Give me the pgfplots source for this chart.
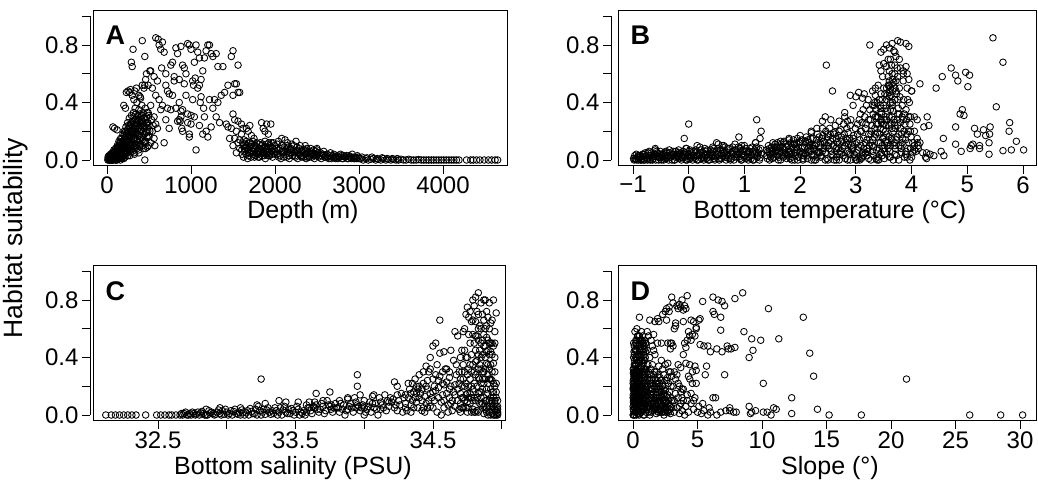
\documentclass[border=0pt]{standalone}
\usepackage{fontspec}
\setmainfont{Liberation Sans}
\usepackage{pgfplots}
\pgfplotsset{compat=1.18}
\pgfplotsset{
  rax/.style={scale only axis, anchor=south west, axis line style={-, line width=0.8pt, black}, tick style={line width=0.8pt, black}, tick align=outside, major tick length=8pt, tick label style={font=\fontsize{24}{25}\selectfont}},
  ryax/.style={width=1pt, height=143.75pt, xmin=0, xmax=1, ymin=0, ymax=1, axis y line=left, axis x line=none, rax, y axis line style={-}, ytick={0,0.2,0.4,0.6,0.8,1}, yticklabels={0.0,,0.4,,0.8,}},
  rxax/.style={height=1pt, ymin=0, ymax=1, axis x line=bottom, axis y line=none, rax, x axis line style={-}, xticklabel style={yshift=1pt}},
  dax/.style={scale only axis, anchor=south west, ymin=-0.04, ymax=1.04, ticks=none, axis line style={line width=0.8pt}, clip=false},
  pts/.style={only marks, mark=o, mark size=3.3pt, mark options={line width=0.85pt, black}, black},
}
\begin{document}
\begin{tikzpicture}
\useasboundingbox (0pt,0pt) rectangle (1038pt,-492pt);
% ---------------- Panel A ----------------
\begin{axis}[dax, at={(93pt,-165.75pt)}, width=414pt, height=155.25pt, xmin=-166.7, xmax=4761.9]
\addplot[pts] coordinates {
(10,0)(15,0.01)(25,0)(30,0.02)(35,0.005)(45,0.015)(50,0.03)(55,0)(60,0.01)(65,0.04)(70,0.02)(75,0)(80,0.05)(85,0.01)(90,0.03)(95,0.06)(100,0.02)(105,0.04)(110,0.07)(115,0.01)(120,0.05)(125,0.08)(130,0.03)(135,0.06)(140,0.1)(145,0.02)(150,0.04)(70,0.23)(90,0.22)(120,0.21)(40,0.0)(60,0.03)(80,0.02)(100,0.0)(120,0.0)(140,0.01)(110,0.03)(130,0.09)(150,0.12)(160,0.0)(180,0.02)(200,0.01)
(155,0.09)(160,0.12)(165,0.03)(170,0.07)(175,0.15)(180,0.01)(185,0.1)(190,0.18)(195,0.05)(200,0.13)(205,0.2)(210,0.08)(215,0.02)(220,0.16)(225,0.23)(230,0.11)(235,0.05)(240,0.19)(245,0.26)(250,0.14)(255,0.08)(260,0.22)(265,0.29)(270,0.03)(275,0.17)(280,0.25)(285,0.11)(290,0.31)(295,0.2)(300,0.06)
(160,0.05)(170,0.1)(180,0.06)(190,0.12)(200,0.03)(210,0.15)(220,0.09)(230,0.18)(240,0.06)(250,0.21)(260,0.12)(270,0.24)(280,0.09)(290,0.15)(300,0.27)(175,0.02)(195,0.08)(215,0.12)(235,0.14)(255,0.17)(275,0.07)(295,0.1)
(20,0.01)(28,0.0)(38,0.02)(48,0.0)(58,0.02)(68,0.0)(78,0.03)(88,0.05)(98,0.01)(108,0.0)(118,0.03)(128,0.01)(138,0.04)(148,0.07)(158,0.02)(168,0.04)(178,0.09)(188,0.03)(198,0.06)(208,0.11)(218,0.04)(228,0.08)(238,0.13)(248,0.03)(258,0.11)(268,0.16)(278,0.05)(288,0.19)(298,0.13)(308,0.23)(318,0.15)(328,0.04)(338,0.18)(348,0.24)(358,0.08)(368,0.18)(378,0.27)(388,0.1)(398,0.24)(408,0.16)(418,0.23)(428,0.1)(438,0.29)(448,0.22)(458,0.08)(468,0.19)(478,0.33)(488,0.26)(498,0.31)(510,0.2)(530,0.28)(550,0.24)(570,0.1)
(12,0.02)(22,0.03)(32,0.01)(42,0.04)(52,0.02)(62,0.05)(72,0.03)(82,0.07)(92,0.04)(102,0.08)(112,0.05)(122,0.1)(132,0.06)(142,0.13)(152,0.07)(162,0.15)(172,0.05)(182,0.13)(192,0.09)(202,0.17)(212,0.06)(222,0.2)(232,0.14)(242,0.09)(252,0.24)(262,0.18)(272,0.1)(282,0.2)(292,0.26)(302,0.18)(312,0.3)(322,0.22)(332,0.1)(342,0.32)(352,0.25)(362,0.15)(372,0.12)(382,0.2)(392,0.32)(402,0.26)
(305,0.12)(310,0.2)(315,0.33)(320,0.05)(325,0.25)(330,0.15)(335,0.36)(340,0.09)(345,0.28)(350,0.19)(355,0.4)(360,0.13)(365,0.31)(370,0.22)(375,0.07)(380,0.35)(385,0.17)(390,0.26)(395,0.44)(400,0.11)(405,0.3)(410,0.21)(415,0.38)(420,0.14)(425,0.27)(430,0.33)(435,0.08)(440,0.24)(445,0.18)(450,0.29)(455,0.36)(460,0.12)(465,0.23)(470,0.3)(475,0.16)(480,0.26)(485,0.2)(490,0.33)(495,0.1)(500,0.24)
(310,0.08)(330,0.28)(350,0.1)(370,0.3)(390,0.14)(410,0.27)(430,0.2)(450,0.13)(470,0.25)(490,0.17)(320,0.18)(340,0.22)(360,0.27)(380,0.05)(400,0.2)(420,0.31)(440,0.12)(460,0.28)(480,0.09)(500,0.16)(450,0.0)(520,0.12)(540,0.2)(560,0.15)(580,0.25)
(200,0.38)(220,0.36)(230,0.47)(250,0.48)(270,0.47)(280,0.49)(300,0.45)(320,0.42)(330,0.48)(350,0.5)(380,0.45)(400,0.43)(420,0.52)(440,0.5)(450,0.52)(460,0.56)(470,0.6)(490,0.52)(510,0.62)(290,0.68)(310,0.77)(300,0.65)(420,0.83)(450,0.72)
(520,0.62)(540,0.5)(560,0.58)(580,0.85)(610,0.84)(620,0.8)(640,0.77)(660,0.82)(680,0.75)(700,0.6)(650,0.64)(600,0.55)(580,0.45)(620,0.42)(660,0.38)(700,0.52)(720,0.48)(740,0.46)(760,0.66)(780,0.68)(800,0.58)(820,0.78)(840,0.74)(860,0.56)(880,0.79)(900,0.66)(920,0.64)(940,0.6)(960,0.81)(980,0.8)(1000,0.77)(1020,0.55)(1040,0.68)(1060,0.8)(1080,0.75)(1100,0.71)(1120,0.56)(1140,0.62)(1160,0.71)(1180,0.76)(1200,0.8)(1220,0.8)(1240,0.74)(1260,0.72)(1300,0.74)(1320,0.65)(1380,0.65)(1440,0.52)(1480,0.72)(1500,0.76)(1520,0.53)(1540,0.53)(1560,0.47)(1580,0.47)(1560,0.66)(1500,0.45)
(520,0.38)(560,0.3)(600,0.22)(640,0.35)(680,0.12)(700,0.28)(720,0.36)(740,0.22)(760,0.35)(780,0.45)(800,0.55)(820,0.36)(840,0.27)(860,0.4)(880,0.3)(900,0.2)(920,0.53)(940,0.45)(960,0.26)(980,0.18)(1000,0.31)(1020,0.42)(1040,0.3)(1060,0.07)(1080,0.5)(1100,0.24)(1120,0.44)(1140,0.18)(1160,0.3)(1180,0.2)(1200,0.16)(1220,0.42)(1240,0.23)(1260,0.36)(1280,0.42)(1300,0.3)(1320,0.4)(1340,0.26)(1360,0.45)(1400,0.47)(1420,0.25)(1440,0.23)(1460,0.15)(1480,0.22)(1500,0.32)(1520,0.28)(1540,0.2)(1560,0.27)(1580,0.14)(1600,0.25)(1620,0.22)(1660,0.22)
(860,0.28)(870,0.27)(880,0.34)(890,0.22)(900,0.35)(1050,0.57)(1030,0.52)(1100,0.52)(1110,0.4)(1150,0.36)(1000,0.25)(980,0.16)(960,0.32)
(1500,0.1)(1520,0.15)(1540,0.05)(1560,0.12)(1580,0.08)(1600,0.18)(1620,0.1)(1640,0.06)(1660,0.13)(1680,0.03)(1700,0.09)(1720,0.11)(1740,0.04)(1760,0.07)(1780,0.12)(1800,0.02)(1820,0.08)(1840,0.1)(1860,0.05)(1880,0.13)(1900,0.07)(1920,0.03)(1940,0.1)(1960,0.06)(1980,0.12)(2000,0.04)
(1610,0.04)(1630,0.14)(1650,0.09)(1670,0.07)(1690,0.12)(1710,0.05)(1730,0.08)(1750,0.1)(1770,0.03)(1790,0.06)(1810,0.11)(1830,0.05)(1850,0.08)(1870,0.03)(1890,0.09)(1910,0.11)(1930,0.06)(1950,0.09)(1970,0.02)(1990,0.07)
(1605,0.07)(1615,0.12)(1625,0.02)(1635,0.08)(1645,0.11)(1655,0.04)(1665,0.1)(1675,0.01)(1685,0.07)(1695,0.05)(1705,0.12)(1715,0.02)(1725,0.06)(1735,0.13)(1745,0.06)(1755,0.02)(1765,0.1)(1775,0.05)(1785,0.09)(1795,0.04)(1805,0.06)(1815,0.02)(1825,0.12)(1835,0.07)(1845,0.03)(1855,0.11)(1865,0.06)(1875,0.09)(1885,0.01)(1895,0.04)(1905,0.08)(1915,0.06)(1925,0.12)(1935,0.03)(1945,0.05)(1955,0.12)(1965,0.04)(1975,0.08)(1985,0.05)(1995,0.1)
(1840,0.26)(1860,0.22)(1880,0.2)(1900,0.25)(1920,0.18)(1950,0.25)(1700,0.24)(1680,0.2)(1720,0.17)(1750,0.15)
(2020,0.08)(2040,0.13)(2060,0.03)(2080,0.1)(2100,0.06)(2120,0.14)(2140,0.02)(2160,0.09)(2180,0.05)(2200,0.11)(2220,0.07)(2240,0.03)(2260,0.09)(2280,0.05)(2300,0.1)(2320,0.02)(2340,0.07)(2360,0.04)(2380,0.08)(2400,0.03)(2420,0.06)(2440,0.02)(2460,0.07)(2480,0.04)(2500,0.08)(2520,0.02)(2540,0.05)(2560,0.03)(2580,0.06)(2600,0.02)(2620,0.04)(2640,0.01)(2660,0.05)(2680,0.02)(2700,0.04)(2720,0.01)(2740,0.03)(2760,0.02)(2780,0.04)(2800,0.01)(2820,0.03)(2840,0.02)(2860,0.01)(2880,0.03)(2900,0.02)(2920,0.04)(2940,0.01)(2960,0.02)(2980,0.03)(3000,0.01)
(2030,0.04)(2050,0.07)(2070,0.01)(2090,0.05)(2110,0.09)(2130,0.04)(2150,0.06)(2170,0.01)(2190,0.08)(2210,0.03)(2230,0.05)(2250,0.06)(2270,0.01)(2290,0.04)(2310,0.06)(2330,0.03)(2350,0.05)(2370,0.01)(2390,0.05)(2410,0.02)(2430,0.04)(2450,0.05)(2470,0.01)(2490,0.03)(2510,0.05)(2530,0.03)(2550,0.01)(2570,0.04)(2590,0.02)(2610,0.03)(2630,0.02)(2650,0.03)(2670,0.01)(2690,0.03)(2710,0.02)(2730,0.02)(2750,0.01)(2770,0.02)(2790,0.03)(2810,0.01)(2830,0.02)(2850,0.03)(2870,0.01)(2890,0.02)(2910,0.01)(2930,0.02)(2950,0.01)(2970,0.01)(2990,0.02)
(2005,0.06)(2025,0.11)(2045,0.02)(2065,0.08)(2085,0.06)(2105,0.02)(2125,0.07)(2145,0.1)(2165,0.03)(2185,0.07)(2205,0.05)(2225,0.1)(2245,0.02)(2265,0.07)(2285,0.08)(2305,0.03)(2325,0.06)(2345,0.02)(2365,0.07)(2385,0.02)(2405,0.05)(2425,0.08)(2445,0.04)(2465,0.03)(2485,0.06)
(2080,0.15)(2150,0.12)(2360,0.1)(2500,0.07)(2250,0.13)
(3020,0.01)(3050,0)(3080,0.01)(3110,0)(3140,0.005)(3170,0.01)(3200,0)(3230,0.005)(3260,0)(3290,0.01)(3320,0)(3350,0.005)(3380,0)(3410,0.005)(3440,0)(3470,0)(3500,0.005)(3530,0)(3560,0)(3590,0.005)(3620,0)(3650,0)(3680,0)(3710,0.003)(3740,0)(3770,0)(3800,0)(3830,0)(3860,0)(3890,0)(3920,0)(3950,0)(3980,0)(4010,0)(4040,0)(4070,0)(4100,0)(4130,0)(4160,0)(4190,0)
(4280,0)(4330,0)(4360,0)(4400,0)(4440,0)(4490,0)(4540,0)(4580,0)(4620,0)(4650,0)
(3035,0.02)(3095,0.015)(3155,0.02)(3215,0.01)(3275,0.015)(3335,0.01)(3395,0.01)(3455,0.01)
};
\end{axis}
\begin{axis}[ryax, at={(90pt,-160pt)}]\end{axis}
\begin{axis}[rxax, at={(107pt,-165.75pt)}, width=336pt, xmin=0, xmax=4000, xtick={0,1000,2000,3000,4000}, xticklabels={0,1000,2000,3000,4000}]\end{axis}
\node[anchor=base west, font=\bfseries\fontsize{27}{27}\selectfont] at (102pt,-45pt) {A};
\node[anchor=base, font=\fontsize{25}{25}\selectfont] at (303pt,-218pt) {Depth (m)};
% ---------------- Panel B ----------------
\begin{axis}[dax, at={(618pt,-165.75pt)}, width=418pt, height=155.25pt, xmin=-1.269, xmax=6.233]
\addplot[pts] coordinates {
(-0.98,0)(-0.95,0.01)(-0.92,0.02)(-0.9,0)(-0.87,0.03)(-0.84,0.01)(-0.8,0.04)(-0.77,0.02)(-0.74,0)(-0.7,0.03)(-0.67,0.05)(-0.64,0.01)(-0.6,0.07)(-0.57,0.03)(-0.54,0)(-0.5,0.04)(-0.47,0.02)(-0.44,0.05)(-0.4,0.01)(-0.37,0.03)(-0.34,0.05)(-0.3,0)(-0.27,0.04)(-0.24,0.02)(-0.2,0.05)(-0.17,0.01)(-0.14,0.03)(-0.1,0.06)(-0.07,0.02)(-0.04,0.08)(0,0.04)(0.03,0.01)(0.06,0.05)(0.1,0.02)(0.13,0.07)(0.16,0.03)(0.2,0.09)(0.23,0.01)(0.26,0.05)(0.3,0.03)(0.33,0.07)(0.36,0.02)(0.4,0.05)(0.43,0.09)(0.46,0.01)(0.5,0.06)(0.53,0.11)(0.56,0.03)(0.6,0.07)(0.63,0.1)(0.66,0.02)(0.7,0.05)(0.73,0.08)(0.76,0.01)(0.8,0.04)(0.83,0.11)(0.86,0.06)(0.9,0.02)(0.93,0.08)(0.96,0.04)(1,0.1)(1.03,0.01)(1.06,0.05)(1.1,0.08)(1.13,0.03)(1.16,0.06)(1.2,0.12)(1.23,0.02)(1.26,0.07)(1.3,0.04)
(-0.96,0.005)(-0.88,0.015)(-0.82,0.025)(-0.72,0.015)(-0.62,0.025)(-0.52,0.015)(-0.42,0.03)(-0.32,0.02)(-0.22,0.035)(-0.12,0.015)(-0.02,0.03)(0.08,0.03)(0.18,0.04)(0.28,0.015)(0.38,0.04)(0.48,0.03)(0.58,0.045)(0.68,0.035)(0.78,0.06)(0.88,0.04)(0.98,0.03)(1.08,0.02)(1.18,0.04)(1.28,0.015)
(-0.99,0.01)(-0.93,0.0)(-0.91,0.03)(-0.86,0.0)(-0.83,0.04)(-0.79,0.0)(-0.76,0.03)(-0.73,0.05)(-0.69,0.0)(-0.66,0.02)(-0.63,0.04)(-0.59,0.0)(-0.56,0.05)(-0.53,0.02)(-0.49,0.0)(-0.46,0.04)(-0.43,0.01)(-0.39,0.05)(-0.36,0.0)(-0.33,0.02)(-0.29,0.04)(-0.26,0.0)(-0.23,0.06)(-0.19,0.02)(-0.16,0.04)(-0.13,0.0)(-0.09,0.03)(-0.06,0.05)(-0.03,0.0)(0.01,0.06)(0.04,0.02)(0.07,0.0)(0.11,0.05)(0.14,0.03)(0.17,0.0)(0.21,0.05)(0.24,0.03)(0.27,0.0)(0.31,0.06)(0.34,0.04)(0.37,0.0)(0.41,0.02)(0.44,0.06)(0.47,0.0)(0.51,0.04)(0.54,0.01)(0.57,0.07)(0.61,0.03)(0.64,0.05)(0.67,0.0)(0.71,0.08)(0.74,0.03)(0.77,0.05)(0.81,0.0)(0.84,0.07)(0.87,0.02)(0.91,0.05)(0.94,0.0)(0.97,0.07)(1.01,0.03)(1.04,0.06)(1.07,0.0)(1.11,0.04)(1.14,0.09)(1.17,0.0)(1.21,0.05)(1.24,0.03)(1.27,0.0)(1.29,0.08)
(-0.97,0.03)(-0.94,0.04)(-0.89,0.02)(-0.81,0.0)(-0.78,0.05)(-0.75,0.01)(-0.71,0.06)(-0.68,0.03)(-0.61,0.04)(-0.58,0.06)(-0.55,0.02)(-0.51,0.06)(-0.48,0.03)(-0.41,0.06)(-0.38,0.02)(-0.35,0.07)(-0.31,0.03)(-0.28,0.06)(-0.21,0.03)(-0.18,0.07)(-0.15,0.05)(-0.11,0.02)(-0.08,0.04)(-0.01,0.01)(0.02,0.07)(0.05,0.03)(0.09,0.06)(0.12,0.01)(0.19,0.04)(0.22,0.07)(0.25,0.02)(0.29,0.08)(0.32,0.01)(0.39,0.07)(0.42,0.03)(0.45,0.08)(0.49,0.02)(0.52,0.08)(0.59,0.01)(0.62,0.05)(0.65,0.09)(0.69,0.03)(0.72,0.01)(0.79,0.09)(0.82,0.02)(0.85,0.04)(0.89,0.09)(0.92,0.01)(0.99,0.06)(1.02,0.08)(1.05,0.02)(1.09,0.06)(1.12,0.01)(1.19,0.07)(1.22,0.09)(1.25,0.05)
(-0.85,0)(-0.65,0)(-0.45,0)(-0.25,0)(-0.05,0)(0.15,0)(0.35,0)(0.55,0)(0.75,0)(0.95,0)(1.15,0)
(0,0.25)(-0.08,0.15)(-0.05,0.08)(0.15,0.1)(0.9,0.16)(1.22,0.28)(1.3,0.2)(1.28,0.15)(1.2,0.12)(-0.6,0.08)(0.5,0.12)(0.6,0.1)(0.95,0.1)
(1.4,0.03)(1.45,0.08)(1.5,0.01)(1.55,0.11)(1.6,0.05)(1.65,0.13)(1.7,0.02)(1.75,0.09)(1.8,0.15)(1.85,0.04)(1.9,0.11)(1.95,0.07)(2,0.17)(2.05,0.01)(2.1,0.12)(2.15,0.06)(2.2,0.19)(2.25,0.03)(2.3,0.14)(2.35,0.09)(2.4,0.22)(2.45,0.05)(2.5,0.16)(2.55,0.28)(2.6,0.1)(2.65,0.02)(2.7,0.2)(2.75,0.13)(2.8,0.33)(2.85,0.06)(2.9,0.24)(2.95,0.15)(3,0.44)
(1.42,0.06)(1.52,0.04)(1.62,0.02)(1.72,0.07)(1.82,0.01)(1.92,0.03)(2.02,0.08)(2.12,0.03)(2.22,0.1)(2.32,0.05)(2.42,0.13)(2.52,0.08)(2.62,0.18)(2.72,0.06)(2.82,0.15)(2.92,0.1)
(1.47,0.02)(1.57,0.07)(1.67,0.05)(1.77,0.03)(1.87,0.08)(1.97,0.02)(2.07,0.05)(2.17,0.1)(2.27,0.07)(2.37,0.02)(2.47,0.1)(2.57,0.04)(2.67,0.12)(2.77,0.03)(2.87,0.11)(2.97,0.04)
(1.41,0.01)(1.43,0.1)(1.46,0.04)(1.48,0.07)(1.51,0.12)(1.53,0.02)(1.56,0.06)(1.58,0.09)(1.61,0.0)(1.63,0.08)(1.66,0.11)(1.68,0.03)(1.71,0.13)(1.73,0.05)(1.76,0.01)(1.78,0.1)(1.81,0.06)(1.83,0.12)(1.86,0.02)(1.88,0.14)(1.91,0.05)(1.93,0.09)(1.96,0.0)(1.98,0.12)(2.01,0.06)(2.03,0.14)(2.06,0.03)(2.08,0.09)(2.11,0.16)(2.13,0.01)(2.16,0.12)(2.18,0.07)(2.21,0.04)(2.23,0.15)(2.26,0.1)(2.28,0.0)(2.31,0.18)(2.33,0.06)(2.36,0.12)(2.38,0.03)(2.41,0.17)(2.43,0.08)(2.46,0.2)(2.48,0.01)(2.51,0.12)(2.53,0.22)(2.56,0.06)(2.58,0.15)(2.61,0.0)(2.63,0.24)(2.66,0.09)(2.68,0.17)(2.71,0.04)(2.73,0.21)(2.76,0.08)(2.78,0.25)(2.81,0.01)(2.83,0.12)(2.86,0.19)(2.88,0.05)(2.91,0.28)(2.93,0.07)(2.96,0.17)(2.98,0.02)
(1.44,0.05)(1.54,0.09)(1.64,0.06)(1.74,0.11)(1.84,0.09)(1.94,0.12)(2.04,0.05)(2.14,0.14)(2.24,0.08)(2.34,0.16)(2.44,0.12)(2.54,0.18)(2.64,0.08)(2.74,0.16)(2.84,0.22)(2.94,0.12)(2.5,0.0)(2.7,0.0)(2.9,0.0)(2.2,0.0)(1.9,0.0)(1.6,0.03)
(1.4,0.07)(1.49,0.09)(1.5,0.06)(1.59,0.12)(1.6,0.09)(1.69,0.09)(1.7,0.12)(1.79,0.06)(1.8,0.04)(1.89,0.11)(1.9,0.07)(1.99,0.05)(2.0,0.13)(2.09,0.13)(2.1,0.04)(2.19,0.15)(2.2,0.06)(2.29,0.11)(2.3,0.02)(2.39,0.15)(2.4,0.06)(2.49,0.18)(2.5,0.1)(2.59,0.03)(2.6,0.19)(2.69,0.08)(2.7,0.11)(2.79,0.18)(2.8,0.1)(2.89,0.15)(2.9,0.04)(2.99,0.22)(2.55,0.13)(2.65,0.15)(2.75,0.05)(2.85,0.14)(2.95,0.09)(2.35,0.05)(2.15,0.09)(1.75,0.04)
(1.45,0)(1.65,0)(1.85,0)(2.05,0)(2.25,0)(2.45,0)(2.65,0)(2.85,0)(3,0)
(2.47,0.66)(2.58,0.48)(2.45,0.3)(2.4,0.27)(2.7,0.27)(2.8,0.3)(2.85,0.27)(2.9,0.45)(2.95,0.38)(2.2,0.2)(2.3,0.22)(1.95,0.15)(1.8,0.14)
(3.05,0.02)(3.1,0.2)(3.15,0.46)(3.2,0.08)(3.25,0.35)(3.3,0.14)(3.35,0.45)(3.4,0.25)(3.45,0.05)(3.5,0.38)(3.55,0.18)(3.6,0.52)(3.65,0.3)(3.7,0.1)(3.75,0.42)(3.8,0.22)(3.85,0.6)(3.9,0.35)(3.95,0.12)(4,0.48)
(3.02,0.12)(3.08,0.32)(3.12,0.05)(3.18,0.25)(3.22,0.42)(3.28,0.2)(3.32,0.03)(3.38,0.3)(3.42,0.42)(3.48,0.15)(3.52,0.28)(3.58,0.08)(3.62,0.4)(3.68,0.2)(3.72,0.55)(3.78,0.32)(3.82,0.05)(3.88,0.25)(3.92,0.5)(3.98,0.3)
(3.04,0.07)(3.14,0.15)(3.24,0.1)(3.34,0.22)(3.44,0.12)(3.54,0.24)(3.64,0.15)(3.74,0.28)(3.84,0.15)(3.94,0.2)
(3.06,0.28)(3.16,0.3)(3.26,0.28)(3.36,0.35)(3.46,0.32)(3.56,0.45)(3.66,0.48)(3.76,0.36)(3.86,0.42)(3.96,0.4)
(3.1,0.01)(3.2,0.03)(3.3,0.06)(3.4,0.02)(3.5,0.08)(3.6,0.02)(3.7,0.04)(3.8,0.1)(3.9,0.06)(3.36,0.01)(3.46,0.26)(3.56,0.04)
(3.01,0.05)(3.03,0.18)(3.07,0.0)(3.09,0.1)(3.11,0.26)(3.13,0.03)(3.17,0.12)(3.19,0.38)(3.21,0.06)(3.23,0.18)(3.27,0.0)(3.29,0.1)(3.31,0.32)(3.33,0.16)(3.37,0.07)(3.39,0.19)(3.41,0.0)(3.43,0.33)(3.47,0.1)(3.49,0.21)(3.51,0.01)(3.53,0.13)(3.57,0.34)(3.59,0.16)(3.61,0.06)(3.63,0.25)(3.67,0.0)(3.69,0.12)(3.71,0.22)(3.73,0.03)(3.77,0.18)(3.79,0.44)(3.81,0.08)(3.83,0.3)(3.87,0.02)(3.89,0.14)(3.91,0.28)(3.93,0.08)(3.97,0.0)(3.99,0.16)(3.62,0.35)(3.66,0.4)(3.52,0.46)(3.58,0.58)(3.64,0.66)(3.7,0.6)(3.74,0.64)(3.34,0.4)(3.44,0.38)(3.54,0.36)
(3.02,0.0)(3.05,0.09)(3.08,0.2)(3.11,0.02)(3.14,0.08)(3.17,0.22)(3.2,0.14)(3.23,0.01)(3.26,0.12)(3.29,0.24)(3.32,0.09)(3.35,0.18)(3.38,0.0)(3.41,0.12)(3.44,0.22)(3.47,0.03)(3.5,0.16)(3.53,0.3)(3.56,0.1)(3.59,0.24)(3.62,0.02)(3.65,0.14)(3.68,0.28)(3.71,0.08)(3.74,0.16)(3.77,0.0)(3.8,0.26)(3.83,0.12)(3.86,0.2)(3.89,0.04)(3.92,0.18)(3.95,0.3)(3.4,0.3)(3.45,0.28)(3.5,0.25)(3.55,0.28)(3.6,0.3)(3.65,0.22)(3.7,0.26)(3.75,0.24)
(3.03,0.25)(3.07,0.14)(3.13,0.35)(3.17,0.05)(3.23,0.28)(3.27,0.18)(3.33,0.38)(3.37,0.25)(3.43,0.18)(3.47,0.42)(3.53,0.2)(3.57,0.12)(3.63,0.45)(3.67,0.34)(3.73,0.46)(3.77,0.1)(3.83,0.38)(3.87,0.32)(3.93,0.42)(3.97,0.25)(3.35,0.3)(3.45,0.36)(3.55,0.42)(3.65,0.38)(3.75,0.32)(3.85,0.28)(3.6,0.44)(3.7,0.42)(3.5,0.5)(3.6,0.47)(3.68,0.54)(3.62,0.5)(3.66,0.56)(3.58,0.52)(3.72,0.48)(3.78,0.5)(3.42,0.08)(3.52,0.06)(3.62,0.1)(3.72,0.14)(3.82,0.18)(3.92,0.02)
(3.25,0.8)(3.45,0.75)(3.5,0.77)(3.55,0.8)(3.6,0.78)(3.65,0.81)(3.7,0.75)(3.75,0.83)(3.8,0.82)(3.9,0.81)(3.95,0.79)(3.62,0.7)(3.68,0.76)(3.72,0.72)(3.78,0.7)(3.5,0.67)(3.55,0.65)(3.6,0.62)(3.65,0.6)(3.7,0.66)(3.8,0.64)(3.85,0.62)(3.9,0.65)(3.92,0.6)(3.48,0.58)(3.6,0.55)(3.65,0.53)(3.7,0.5)(3.75,0.58)(3.85,0.55)(3.95,0.56)(3.55,0.5)(3.4,0.52)(3.35,0.5)(3.3,0.48)(3.45,0.46)(4.0,0.48)(4.15,0.53)(4.05,0.3)(4.1,0.28)(3.98,0.2)(4.02,0.12)(4.08,0.06)(3.12,0.43)(3.05,0.47)(3.42,0.66)(3.45,0.62)(3.58,0.7)(3.38,0.4)(3.3,0.38)
(4.0,0.02)(4.02,0.05)(4.05,0.1)(4.1,0.15)(4.12,0.08)(3.98,0.08)(4.05,0.2)(4.15,0.12)
(5.46,0.85)(5.64,0.68)(5.52,0.37)(4.71,0.64)(4.55,0.58)(4.44,0.5)(4.79,0.59)(4.83,0.55)(4.97,0.61)(5.04,0.59)(5.01,0.51)(4.91,0.35)(4.87,0.32)(4.94,0.31)(4.28,0.3)(4.31,0.24)(4.22,0.23)(4.57,0.15)(4.79,0.23)(5.13,0.22)(5.18,0.18)(5.29,0.21)(5.33,0.17)(5.41,0.23)(5.40,0.18)(5.76,0.26)(5.75,0.2)(5.88,0.13)(6.01,0.07)(5.79,0.07)(5.64,0.065)(5.39,0.04)(5.39,0.12)(5.22,0.1)(5.22,0.08)(5.05,0.08)(5.07,0.1)(5.1,0.11)(4.89,0.06)(4.79,0.11)(4.58,0.03)(4.53,0.06)(4.4,0.03)(4.33,0.04)(4.27,0.05)(4.25,0.02)(4.2,0.05)(4.1,0.12)(4.12,0.1)(4.05,0.07)(4.27,0.01)
};
\end{axis}
\begin{axis}[ryax, at={(611pt,-160pt)}]\end{axis}
\begin{axis}[rxax, at={(633pt,-165.75pt)}, width=390pt, xmin=-1, xmax=6, xtick={-1,0,1,2,3,4,5,6}, xticklabels={−1,0,1,2,3,4,5,6}]\end{axis}
\node[anchor=base west, font=\bfseries\fontsize{27}{27}\selectfont] at (627pt,-45pt) {B};
\node[anchor=base, font=\fontsize{25}{25}\selectfont] at (830pt,-218pt) {Bottom temperature (°C)};
% ---------------- Panel C ----------------
\begin{axis}[dax, at={(93pt,-420.75pt)}, width=412pt, height=155.25pt, xmin=32.027, xmax=35.024]
\addplot[pts] coordinates {
(32.12,0)(32.16,0)(32.19,0)(32.22,0)(32.25,0)(32.28,0)(32.31,0)(32.34,0)(32.41,0)(32.49,0)(32.52,0)(32.55,0)(32.58,0)(32.6,0)(32.63,0)
(32.66,0)(32.69,0.01)(32.72,0)(32.75,0.02)(32.78,0.005)(32.81,0.015)(32.84,0)(32.87,0.03)(32.9,0.01)(32.93,0.02)(32.96,0)(32.99,0.04)(33.02,0.01)(33.05,0.025)(33.08,0.005)(33.11,0.035)(33.14,0.015)(33.17,0.045)(33.2,0.01)(33.23,0.06)(33.26,0.02)(33.29,0.035)(33.32,0.005)(33.35,0.05)(33.38,0.02)(33.41,0.035)(33.44,0.01)(33.47,0.045)(33.5,0.02)
(32.7,0.02)(32.76,0.01)(32.82,0.025)(32.88,0.015)(32.94,0.035)(33,0.02)(33.06,0.04)(33.12,0.02)(33.18,0.025)(33.24,0.03)(33.3,0.05)(33.36,0.03)(33.42,0.06)(33.48,0.03)
(32.68,0)(32.74,0)(32.8,0)(32.86,0)(32.92,0.005)(32.98,0.005)(33.04,0)(33.1,0)(33.16,0)(33.22,0)(33.28,0.005)(33.34,0.01)(33.4,0)(33.46,0.01)
(32.67,0.01)(32.71,0.0)(32.73,0.01)(32.77,0.0)(32.79,0.02)(32.83,0.01)(32.85,0.0)(32.89,0.02)(32.91,0.0)(32.95,0.01)(32.97,0.03)(33.01,0.0)(33.03,0.03)(33.07,0.01)(33.09,0.02)(33.13,0.0)(33.15,0.03)(33.19,0.01)(33.21,0.04)(33.25,0.0)(33.27,0.04)(33.31,0.02)(33.33,0.03)(33.37,0.0)(33.39,0.05)(33.43,0.02)(33.45,0.04)(33.49,0.0)
(33.25,0.25)(33.22,0.07)(33.28,0.08)(33.1,0.05)(33.43,0.09)(33.38,0.1)(32.95,0.05)(32.85,0.04)
(33.52,0.04)(33.55,0.01)(33.58,0.07)(33.61,0.03)(33.64,0.09)(33.67,0.02)(33.7,0.06)(33.73,0.1)(33.76,0.04)(33.79,0.08)(33.82,0.02)(33.85,0.07)(33.88,0.11)(33.91,0.05)(33.94,0.09)(33.97,0.03)(34,0.1)(34.03,0.06)(34.06,0.13)(34.09,0.04)(34.12,0.09)(34.15,0.14)(34.18,0.06)(34.21,0.11)(34.24,0.03)(34.27,0.15)(34.3,0.08)
(33.54,0.02)(33.6,0.05)(33.66,0.04)(33.72,0.03)(33.78,0.05)(33.84,0.04)(33.9,0.08)(33.96,0.06)(34.02,0.04)(34.08,0.08)(34.14,0.05)(34.2,0.09)(34.26,0.07)
(33.57,0.0)(33.63,0.06)(33.69,0.08)(33.75,0.06)(33.81,0.05)(33.87,0.03)(33.93,0.12)(33.99,0.07)(34.05,0.02)(34.11,0.12)(34.17,0.1)(34.23,0.07)(34.29,0.12)
(33.51,0.06)(33.53,0.0)(33.56,0.03)(33.59,0.05)(33.62,0.01)(33.65,0.07)(33.68,0.04)(33.71,0.01)(33.74,0.07)(33.77,0.02)(33.8,0.05)(33.83,0.08)(33.86,0.0)(33.89,0.06)(33.92,0.02)(33.95,0.07)(33.98,0.05)(34.01,0.02)(34.04,0.09)(34.07,0.05)(34.1,0.0)(34.13,0.07)(34.16,0.03)(34.19,0.12)(34.22,0.05)(34.25,0.1)(34.28,0.02)
(33.52,0.09)(33.58,0.02)(33.64,0.05)(33.7,0.1)(33.76,0.07)(33.82,0.1)(33.88,0.04)(33.94,0.05)(34.0,0.05)(34.06,0.08)(34.12,0.04)(34.18,0.09)(34.24,0.14)(34.3,0.05)(34.34,0.15)(34.38,0.2)(34.42,0.1)(34.46,0.05)(34.5,0.16)(34.54,0.24)(34.58,0.05)(34.62,0.18)(34.66,0.14)(34.7,0.08)(34.39,0.18)(34.45,0.2)(34.51,0.1)(34.57,0.3)(34.63,0.08)(34.69,0.22)
(33.65,0.15)(33.75,0.16)(33.95,0.28)(33.95,0.2)(33.97,0.14)(34.07,0.14)(34.22,0.23)(34.24,0.2)(34.0,0.0)(33.88,0.12)(33.6,0.09)
(34.31,0.03)(34.33,0.18)(34.35,0.1)(34.37,0.25)(34.39,0.05)(34.41,0.15)(34.43,0.22)(34.45,0.08)(34.47,0.3)(34.49,0.12)(34.51,0.2)(34.53,0.02)(34.55,0.27)(34.57,0.14)(34.59,0.32)(34.61,0.07)(34.63,0.2)(34.65,0.16)(34.67,0.28)(34.69,0.04)
(34.32,0.12)(34.36,0.05)(34.4,0.2)(34.44,0.13)(34.48,0.06)(34.52,0.17)(34.56,0.09)(34.6,0.23)(34.64,0.1)(34.68,0.18)(34.34,0.07)(34.38,0.15)(34.42,0.03)(34.46,0.18)(34.5,0.25)(34.54,0.12)(34.58,0.21)(34.62,0.12)(34.66,0.06)(34.7,0.25)
(34.3,0.14)(34.32,0.22)(34.34,0.02)(34.36,0.16)(34.38,0.09)(34.4,0.12)(34.42,0.18)(34.44,0.02)(34.46,0.24)(34.48,0.15)(34.5,0.05)(34.52,0.28)(34.54,0.19)(34.56,0.0)(34.58,0.1)(34.6,0.15)(34.62,0.26)(34.64,0.03)(34.66,0.21)(34.68,0.1)(34.7,0.15)(34.69,0.3)(34.67,0.35)(34.61,0.02)(34.57,0.22)(34.47,0.1)(34.43,0.05)(34.37,0.12)
(34.45,0.34)(34.48,0.4)(34.5,0.48)(34.52,0.5)(34.55,0.43)(34.58,0.44)(34.6,0.32)(34.62,0.3)(34.55,0.66)(34.63,0.45)(34.66,0.58)(34.68,0.55)(34.4,0.28)(34.43,0.3)(34.35,0.22)(34.7,0.4)(34.65,0.38)(34.53,0.35)(34.48,0.32)
(34.71,0.05)(34.71,0.2)(34.71,0.45)(34.73,0.1)(34.73,0.3)(34.73,0.6)(34.75,0.02)(34.75,0.15)(34.75,0.4)(34.75,0.75)(34.77,0.08)(34.77,0.25)(34.77,0.5)(34.77,0.72)(34.79,0.04)(34.79,0.18)(34.79,0.35)(34.79,0.56)(34.79,0.8)(34.81,0.1)(34.81,0.28)(34.81,0.45)(34.81,0.65)(34.81,0.82)(34.83,0.02)(34.83,0.15)(34.83,0.32)(34.83,0.52)(34.83,0.7)(34.83,0.85)(34.85,0.07)(34.85,0.22)(34.85,0.4)(34.85,0.6)(34.85,0.78)(34.87,0.01)(34.87,0.12)(34.87,0.3)(34.87,0.48)(34.87,0.66)(34.87,0.8)(34.89,0.05)(34.89,0.18)(34.89,0.36)(34.89,0.54)(34.89,0.72)(34.91,0.02)(34.91,0.1)(34.91,0.25)(34.91,0.42)(34.91,0.6)(34.91,0.78)(34.93,0.01)(34.93,0.06)(34.93,0.16)(34.93,0.3)(34.93,0.5)(34.93,0.66)(34.95,0.0)(34.95,0.04)(34.95,0.1)(34.95,0.2)(34.95,0.4)(34.95,0.58)(34.97,0.0)(34.97,0.02)(34.97,0.06)(34.96,0.71)(34.94,0.8)
(34.72,0.12)(34.74,0.22)(34.76,0.32)(34.78,0.12)(34.8,0.22)(34.82,0.38)(34.84,0.08)(34.86,0.3)(34.88,0.25)(34.9,0.45)(34.92,0.35)(34.94,0.22)(34.76,0.05)(34.8,0.02)(34.84,0.45)(34.88,0.6)(34.9,0.15)(34.92,0.5)(34.86,0.52)(34.82,0.55)(34.78,0.65)(34.74,0.7)(34.8,0.76)(34.88,0.8)(34.9,0.68)(34.92,0.64)(34.85,0.12)(34.89,0.02)(34.91,0.32)(34.93,0.42)(34.95,0.3)(34.96,0.12)(34.97,0.01)(34.96,0.0)(34.94,0.0)(34.92,0.0)(34.9,0.06)(34.88,0.1)(34.86,0.18)(34.84,0.25)(34.82,0.03)(34.78,0.42)(34.76,0.56)(34.72,0.35)(34.92,0.18)(34.9,0.28)(34.94,0.12)(34.96,0.06)
(34.71,0.3)(34.72,0.58)(34.73,0.45)(34.74,0.05)(34.75,0.28)(34.76,0.68)(34.77,0.15)(34.78,0.3)(34.79,0.66)(34.8,0.5)(34.81,0.37)(34.82,0.72)(34.83,0.42)(34.84,0.62)(34.85,0.32)(34.86,0.7)(34.87,0.22)(34.88,0.4)(34.89,0.44)(34.9,0.35)(34.91,0.5)(34.92,0.25)(34.93,0.24)(34.94,0.36)(34.95,0.5)(34.96,0.22)(34.97,0.04)(34.96,0.03)(34.94,0.06)(34.92,0.08)(34.9,0.0)(34.88,0.04)(34.86,0.08)(34.84,0.16)(34.82,0.2)(34.8,0.12)(34.78,0.02)(34.76,0.2)(34.74,0.14)(34.72,0.25)
(34.7,0.02)(34.71,0.12)(34.72,0.05)(34.73,0.2)(34.74,0.4)(34.75,0.09)(34.76,0.12)(34.77,0.35)(34.78,0.2)(34.79,0.1)(34.8,0.3)(34.81,0.02)(34.82,0.12)(34.83,0.26)(34.84,0.35)(34.85,0.16)(34.86,0.25)(34.87,0.06)(34.88,0.32)(34.89,0.1)(34.9,0.22)(34.91,0.06)(34.92,0.12)(34.93,0.1)(34.94,0.16)(34.95,0.08)(34.96,0.16)(34.97,0.1)(34.85,0.5)(34.87,0.56)(34.89,0.62)(34.83,0.6)(34.81,0.55)(34.9,0.52)(34.92,0.44)(34.94,0.48)(34.86,0.42)(34.88,0.48)
};
\end{axis}
\begin{axis}[ryax, at={(90pt,-415pt)}]\end{axis}
\begin{axis}[rxax, at={(158pt,-420.75pt)}, width=343.75pt, xmin=32.5, xmax=35, xtick={32.5,33,33.5,34,34.5,35}, xticklabels={32.5,,33.5,,34.5,}]\end{axis}
\node[anchor=base west, font=\bfseries\fontsize{27}{27}\selectfont] at (102pt,-300pt) {C};
\node[anchor=base, font=\fontsize{25}{25}\selectfont] at (293pt,-474pt) {Bottom salinity (PSU)};
% ---------------- Panel D ----------------
\begin{axis}[dax, at={(618pt,-420.75pt)}, width=418pt, height=155.25pt, xmin=-1.163, xmax=31.24]
\addplot[pts] coordinates {
(0.05,0.0)(0.05,0.1)(0.05,0.2)(0.05,0.3)(0.1,0.05)(0.1,0.15)(0.1,0.25)(0.1,0.48)(0.15,0.02)(0.15,0.12)(0.15,0.22)(0.15,0.35)(0.2,0.08)(0.2,0.18)(0.2,0.28)(0.2,0.5)(0.25,0.0)(0.25,0.14)(0.25,0.24)(0.25,0.32)(0.3,0.06)(0.3,0.2)(0.3,0.3)(0.3,0.6)(0.35,0.1)(0.35,0.26)(0.35,0.4)(0.4,0.03)(0.4,0.16)(0.4,0.42)(0.45,0.08)(0.45,0.22)(0.45,0.5)(0.5,0.01)(0.5,0.12)(0.5,0.3)(0.5,0.68)(0.55,0.06)(0.55,0.18)(0.55,0.38)(0.6,0.02)(0.6,0.25)(0.6,0.52)(0.65,0.1)(0.65,0.33)(0.65,0.58)(0.7,0.04)(0.7,0.2)(0.7,0.45)(0.75,0.14)(0.75,0.28)(0.75,0.55)(0.8,0.0)(0.8,0.08)(0.8,0.36)(0.85,0.18)(0.85,0.48)(0.9,0.05)(0.9,0.26)(0.9,0.52)(0.95,0.12)(0.95,0.4)(1.0,0.02)(1.0,0.22)(1.0,0.5)
(0.1,0.35)(0.2,0.4)(0.3,0.45)(0.4,0.3)(0.5,0.45)(0.6,0.4)(0.7,0.3)(0.8,0.22)(0.9,0.38)(1.0,0.32)(0.15,0.05)(0.25,0.08)(0.35,0.03)(0.45,0.15)(0.55,0.28)(0.65,0.2)(0.75,0.04)(0.85,0.1)(0.95,0.28)(0.12,0.28)(0.22,0.02)(0.32,0.12)(0.42,0.24)(0.52,0.2)(0.62,0.12)(0.72,0.36)(0.82,0.44)(0.92,0.16)(0.4,0.55)(0.6,0.48)
(0.02,0.04)(0.02,0.14)(0.02,0.24)(0.07,0.07)(0.07,0.17)(0.07,0.27)(0.12,0.0)(0.17,0.09)(0.17,0.19)(0.27,0.04)(0.27,0.17)(0.37,0.07)(0.37,0.2)(0.47,0.0)(0.47,0.1)(0.57,0.13)(0.67,0.02)(0.67,0.26)(0.77,0.1)(0.87,0.0)(0.87,0.14)(0.97,0.07)(0.97,0.2)
(0.03,0.09)(0.03,0.19)(0.03,0.29)(0.08,0.12)(0.08,0.22)(0.08,0.32)(0.13,0.18)(0.13,0.08)(0.18,0.25)(0.18,0.13)(0.23,0.1)(0.23,0.2)(0.23,0.3)(0.28,0.1)(0.28,0.26)(0.33,0.16)(0.33,0.22)(0.38,0.1)(0.38,0.28)(0.43,0.18)(0.43,0.06)(0.48,0.26)(0.48,0.14)(0.53,0.08)(0.53,0.24)(0.58,0.16)(0.58,0.32)(0.63,0.06)(0.63,0.22)(0.68,0.14)(0.68,0.38)(0.73,0.08)(0.73,0.24)(0.78,0.18)(0.78,0.3)(0.83,0.04)(0.83,0.26)(0.88,0.2)(0.88,0.32)(0.93,0.1)(0.93,0.24)(0.98,0.14)(0.98,0.44)(0.3,0.52)(0.5,0.55)(0.7,0.52)(0.8,0.5)(0.9,0.46)(0.2,0.45)(0.15,0.58)
(0.01,0.0)(0.01,0.06)(0.01,0.12)(0.01,0.18)(0.01,0.22)(0.06,0.03)(0.06,0.13)(0.06,0.25)(0.11,0.1)(0.11,0.2)(0.11,0.3)(0.16,0.16)(0.16,0.26)(0.21,0.06)(0.21,0.34)(0.26,0.12)(0.26,0.28)(0.31,0.02)(0.31,0.18)(0.36,0.14)(0.36,0.32)(0.41,0.1)(0.41,0.2)(0.46,0.04)(0.46,0.3)(0.51,0.16)(0.51,0.26)(0.56,0.1)(0.61,0.18)(0.66,0.06)(0.71,0.16)(0.76,0.22)(0.81,0.12)(0.86,0.3)(0.91,0.08)(0.96,0.18)
(0.05,0.4)(0.1,0.42)(0.15,0.45)(0.2,0.35)(0.25,0.4)(0.25,0.5)(0.3,0.38)(0.35,0.48)(0.4,0.36)(0.45,0.42)(0.5,0.38)(0.55,0.46)(0.6,0.33)(0.65,0.42)(0.7,0.38)(0.75,0.46)(0.8,0.42)(0.85,0.38)(0.9,0.32)(0.95,0.5)(0.05,0.5)(0.35,0.55)(0.55,0.52)(0.75,0.5)(0.65,0.5)(0.45,0.36)(0.12,0.38)(0.22,0.52)(0.02,0.32)(0.08,0.44)
(1.1,0.05)(1.1,0.2)(1.1,0.45)(1.2,0.1)(1.2,0.3)(1.2,0.55)(1.3,0.0)(1.3,0.15)(1.3,0.4)(1.4,0.08)(1.4,0.25)(1.4,0.52)(1.5,0.03)(1.5,0.18)(1.5,0.35)(1.6,0.12)(1.6,0.28)(1.6,0.56)(1.7,0.06)(1.7,0.2)(1.7,0.42)(1.8,0.01)(1.8,0.14)(1.8,0.3)(1.9,0.09)(1.9,0.22)(1.9,0.5)(2.0,0.04)(2.0,0.16)(2.0,0.65)(2.1,0.1)(2.1,0.26)(2.2,0.02)(2.2,0.13)(2.2,0.38)(2.3,0.07)(2.3,0.2)(2.4,0.0)(2.4,0.11)(2.4,0.28)(2.5,0.05)(2.5,0.17)(2.5,0.72)(2.6,0.09)(2.6,0.24)(2.6,0.66)(2.7,0.03)(2.7,0.14)(2.7,0.36)(2.8,0.07)(2.8,0.3)(2.8,0.75)(2.9,0.01)(2.9,0.12)(2.9,0.5)(3.0,0.05)(3.0,0.27)(3.0,0.82)
(1.25,0.07)(1.45,0.12)(1.65,0.04)(1.85,0.07)(2.05,0.1)(2.25,0.05)(2.45,0.08)(2.65,0.02)(2.85,0.04)(1.35,0.22)(1.55,0.08)(1.75,0.1)(1.95,0.02)(2.15,0.06)(2.35,0.14)(2.55,0.1)(2.75,0.22)(2.95,0.2)
(1.05,0.1)(1.05,0.3)(1.15,0.14)(1.15,0.35)(1.22,0.02)(1.28,0.24)(1.35,0.05)(1.38,0.32)(1.42,0.18)(1.48,0.25)(1.52,0.1)(1.58,0.2)(1.62,0.05)(1.68,0.3)(1.72,0.12)(1.78,0.22)(1.82,0.06)(1.88,0.16)(1.92,0.28)(1.98,0.1)(2.02,0.22)(2.08,0.02)(2.12,0.18)(2.18,0.08)(2.22,0.24)(2.28,0.12)(2.32,0.02)(2.38,0.18)(2.42,0.05)(2.48,0.24)(2.52,0.02)(2.58,0.13)(2.62,0.05)(2.68,0.26)(2.72,0.08)(2.78,0.02)(2.82,0.16)(2.88,0.06)(2.92,0.3)(2.98,0.1)
(1.02,0.05)(1.08,0.16)(1.12,0.25)(1.18,0.06)(1.22,0.18)(1.28,0.1)(1.32,0.28)(1.38,0.12)(1.42,0.02)(1.48,0.14)(1.52,0.22)(1.58,0.05)(1.62,0.15)(1.68,0.08)(1.72,0.25)(1.78,0.04)(1.82,0.18)(1.88,0.24)(1.92,0.04)(1.98,0.18)(2.02,0.12)(2.08,0.2)(2.12,0.04)(2.18,0.16)(2.22,0.06)(2.28,0.2)(2.32,0.1)(2.38,0.06)(2.42,0.15)(2.48,0.04)
(1.3,0.66)(1.7,0.65)(1.9,0.67)(2.3,0.7)(2.6,0.74)(2.8,0.72)(2.2,0.5)(1.5,0.48)(1.1,0.58)(2.9,0.46)(2.7,0.5)(2.0,0.34)(2.3,0.32)(2.5,0.35)(1.6,0.45)
(3.1,0.78)(3.2,0.6)(3.3,0.62)(3.4,0.76)(3.5,0.74)(3.6,0.77)(3.7,0.75)(3.8,0.8)(3.9,0.73)(4.0,0.76)(4.1,0.74)(4.2,0.83)(3.3,0.64)(3.9,0.65)(4.5,0.66)(4.7,0.65)(4.9,0.61)(5.1,0.66)(5.2,0.67)(5.4,0.79)
(3.2,0.3)(3.4,0.28)(3.6,0.2)(3.8,0.18)(4.0,0.5)(4.1,0.47)(4.3,0.58)(4.4,0.55)(4.5,0.52)(4.6,0.56)(4.8,0.55)(4.9,0.6)(4.2,0.52)(3.1,0.48)(3.0,0.5)
(3.1,0.1)(3.2,0.02)(3.3,0.15)(3.4,0.05)(3.5,0.12)(3.6,0.01)(3.7,0.08)(3.8,0.03)(3.9,0.1)(4.0,0.0)(4.1,0.06)(4.2,0.14)(4.3,0.02)(4.4,0.25)(4.5,0.08)(4.6,0.22)(4.7,0.04)(4.8,0.12)(4.9,0.22)(5.0,0.02)(4.4,0.35)(4.6,0.3)(4.8,0.34)(4.9,0.31)(3.5,0.35)(3.7,0.33)(3.9,0.42)(4.1,0.36)(4.3,0.27)
(3.1,0.2)(3.3,0.25)(3.5,0.22)(3.7,0.16)(3.9,0.18)(4.2,0.1)(4.5,0.15)(4.7,0.1)(3.6,0.06)(3.2,0.1)(3.8,0.12)
(5.2,0.49)(5.5,0.48)(5.8,0.48)(6.0,0.44)(6.2,0.72)(6.3,0.7)(6.6,0.8)(6.9,0.79)(7.1,0.76)(7.9,0.81)(6.8,0.59)(6.9,0.44)(6.5,0.46)(6.8,0.68)(6.2,0.82)(7.3,0.48)(7.4,0.46)(7.6,0.46)(7.9,0.47)(5.7,0.34)(5.6,0.28)(7.1,0.28)(6.2,0.12)(6.4,0.12)(5.9,0.05)(6.0,0.02)(5.5,0.03)(5.3,0.01)(5.8,0.0)(6.5,0.0)(6.8,0.02)(7.2,0.03)(7.5,0.03)(7.8,0.02)(7.5,0.05)(5.1,0.06)(5.4,0.08)(8.5,0.85)
(8.6,0.58)(9.2,0.53)(9.9,0.52)(9.0,0.4)(9.3,0.45)(10.5,0.74)(11.3,0.53)(13.2,0.68)(13.7,0.43)(14.0,0.27)(10.1,0.22)(12.3,0.12)(21.2,0.25)(9.0,0.06)(9.2,0.02)(9.5,0.03)(9.1,0.01)(10.1,0.02)(10.4,0.02)(10.7,0.0)(10.9,0.05)(11.1,0.04)(12.3,0.01)(14.3,0.04)(15.2,0.0)(17.7,0.0)(26.1,0.0)(28.5,0.0)(30.2,0.0)(8.0,0.02)
};
\end{axis}
\begin{axis}[ryax, at={(611pt,-415pt)}]\end{axis}
\begin{axis}[rxax, at={(633pt,-420.75pt)}, width=387pt, xmin=0, xmax=30, xtick={0,5,10,15,20,25,30}, xticklabels={0,5,10,15,20,25,30}]\end{axis}
\node[anchor=base west, font=\bfseries\fontsize{27}{27}\selectfont] at (627pt,-300pt) {D};
\node[anchor=base, font=\fontsize{25}{25}\selectfont] at (830pt,-474pt) {Slope (°)};
% ---------------- y label ----------------
\node[rotate=90, font=\fontsize{26.5}{26.5}\selectfont] at (16pt,-238pt) {Habitat suitability};
\end{tikzpicture}
\end{document}
